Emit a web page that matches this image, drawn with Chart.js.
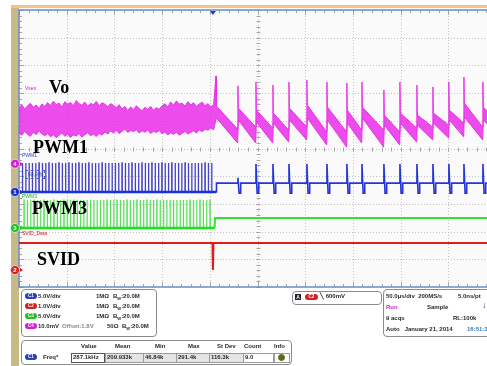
<!DOCTYPE html>
<html>
<head>
<meta charset="utf-8">
<script src="https://cdn.jsdelivr.net/npm/chart.js@4"></script>
<style>
  body { margin:0; width:487px; height:366px; overflow:hidden; background:#fff; position:relative;
         font-family:'Liberation Sans', Arial, sans-serif; }
  .abs { position:absolute; white-space:nowrap; }
  .big { position:absolute; font:bold 18px 'Liberation Serif', 'Times New Roman', serif; line-height:18px; color:#000; }
  .tiny { position:absolute; font:5px 'Liberation Sans', Arial, sans-serif; line-height:5px; white-space:nowrap; }
  .box { position:absolute; border:1px solid #8c8c8c; border-radius:4px; background:#fff; }
  .t { position:absolute; font:bold 6px 'Liberation Sans', Arial, sans-serif; line-height:7px; color:#2a2a2a; white-space:nowrap; }
  .pill { position:absolute; width:12px; height:6px; border-radius:3px; color:#fff; text-align:center;
          font:bold 4.5px 'Liberation Sans', Arial, sans-serif; line-height:6px; }
  .cell { position:absolute; top:353px; height:8px; border:1px solid #9a9a9a; background:#e4e4e4; }
  sub { font-size:4px; }
</style>
</head>
<body>
<div class="abs" style="left:11px;top:8px;width:8px;height:358px;background:rgb(200,186,132)"></div>
<div class="abs" style="left:11px;top:5px;width:476px;height:3px;background:#f3c28e"></div>
<canvas id="scope" width="500" height="292" style="position:absolute;left:0;top:0;width:500px;height:292px"></canvas>

<div class="big" style="left:49px;top:78px">Vo</div>
<div class="big" style="left:33px;top:138px">PWM1</div>
<div class="big" style="left:32px;top:199px">PWM3</div>
<div class="big" style="left:37px;top:250px">SVID</div>
<div class="tiny" style="left:25px;top:86px;color:#d020d0">Vsen</div>
<div class="tiny" style="left:22px;top:153px;color:#2a3fbf">PWM1</div>
<div class="tiny" style="left:22px;top:194px;color:#20b020">PWM3</div>
<div class="tiny" style="left:22px;top:231px;color:#d42020">SVID_Data</div>
<div class="tiny" style="left:25px;top:170px;padding:1px 2px;border:1px dashed #4a5fd0;color:#2a3fbf">50.0%</div>

<!-- channel settings -->
<div class="box" style="left:21px;top:289px;width:134px;height:46px"></div>
<div class="pill" style="left:25px;top:293px;background:#2a3fbf">C1</div>
<div class="t" style="left:38px;top:293px">5.0V/div</div>
<div class="t" style="left:96px;top:293px">1MΩ</div>
<div class="t" style="left:113px;top:293px">B<sub>W</sub>:20.0M</div>
<div class="pill" style="left:25px;top:303px;background:#d42020">C2</div>
<div class="t" style="left:38px;top:303px">1.0V/div</div>
<div class="t" style="left:96px;top:303px">1MΩ</div>
<div class="t" style="left:113px;top:303px">B<sub>W</sub>:20.0M</div>
<div class="pill" style="left:25px;top:313px;background:#22c022">C3</div>
<div class="t" style="left:38px;top:313px">5.0V/div</div>
<div class="t" style="left:96px;top:313px">1MΩ</div>
<div class="t" style="left:113px;top:313px">B<sub>W</sub>:20.0M</div>
<div class="pill" style="left:25px;top:323px;background:#d020d0">C4</div>
<div class="t" style="left:38px;top:323px">10.0mV</div>
<div class="t" style="left:62px;top:323px;color:#8a8a8a">Offset:1.8V</div>
<div class="t" style="left:107px;top:323px">50Ω</div>
<div class="t" style="left:122px;top:323px">B<sub>W</sub>:20.0M</div>

<!-- measurement table -->
<div class="box" style="left:21px;top:340px;width:269px;height:23px"></div>
<div class="t" style="left:81px;top:343px">Value</div>
<div class="t" style="left:115px;top:343px">Mean</div>
<div class="t" style="left:155px;top:343px">Min</div>
<div class="t" style="left:188px;top:343px">Max</div>
<div class="t" style="left:217px;top:343px">St Dev</div>
<div class="t" style="left:244px;top:343px">Count</div>
<div class="t" style="left:274px;top:343px">Info</div>
<div class="pill" style="left:25px;top:354px;background:#2a3fbf">C1</div>
<div class="t" style="left:43px;top:354px">Freq*</div>
<div class="cell" style="left:71px;width:32px;background:#fff;border-color:#555"></div>
<div class="cell" style="left:105px;width:37px"></div>
<div class="cell" style="left:143px;width:32px"></div>
<div class="cell" style="left:176px;width:32px"></div>
<div class="cell" style="left:209px;width:33px"></div>
<div class="cell" style="left:243px;width:29px;background:#fff"></div>
<div class="cell" style="left:274px;width:14px;background:#fff"></div>
<div class="t" style="left:73px;top:354px">287.1kHz</div>
<div class="t" style="left:107px;top:354px">209.933k</div>
<div class="t" style="left:145px;top:354px">46.84k</div>
<div class="t" style="left:178px;top:354px">291.4k</div>
<div class="t" style="left:211px;top:354px">116.3k</div>
<div class="t" style="left:245px;top:354px">9.0</div>
<div class="abs" style="left:278px;top:354px;width:7px;height:7px;border-radius:50%;background:#7a5a1a;border:1px solid #3d7a2a;box-sizing:border-box"></div>

<!-- trigger -->
<div class="box" style="left:292px;top:291px;width:88px;height:12px"></div>
<div class="abs" style="left:295px;top:294px;width:6px;height:6px;background:#223;color:#fff;font:bold 5px Arial;line-height:6px;text-align:center">A</div>
<div class="pill" style="left:305px;top:294px;width:13px;background:#d42020">C2</div>
<div class="t" style="left:320px;top:293px">╲ 600mV</div>

<!-- acquisition -->
<div class="box" style="left:383px;top:289px;width:115px;height:46px"></div>
<div class="t" style="left:386px;top:293px">50.0µs/div&nbsp; 200MS/s</div>
<div class="t" style="left:458px;top:293px">5.0ns/pt</div>
<div class="t" style="left:386px;top:304px;color:#d020d0">Run</div>
<div class="t" style="left:427px;top:304px">Sample</div>
<div class="t" style="left:482px;top:302px;color:#2a3fbf;font-size:9px">↓</div>
<div class="t" style="left:386px;top:315px">9 acqs</div>
<div class="t" style="left:453px;top:315px">RL:100k</div>
<div class="t" style="left:386px;top:326px">Auto&nbsp;&nbsp; January 21, 2014</div>
<div class="t" style="left:467px;top:326px;color:#3a7fc0">16:51:36</div>

<script>
// time axis in µs (50 µs/div), vertical axis in screen divisions
const voNoiseT = [0,3,6,9,12,15,18,21,24,27, 30,33,36,39,42,45,48,51,54,57,
  60,63,66,69,72,75,78,81,84,87, 90,93,96,99,102,105,108,111,114,117,
  120,123,126,129,132,135,138,141,144,147, 150,153,156,159,162,165,168,171,174,177,
  180,183,186,189,192,195,198,201,204];
const voNoiseHi = [1.47,1.58,1.42,1.54,1.63,1.49,1.57,1.44,1.61,1.52,
  1.66,1.55,1.71,1.58,1.64,1.50,1.69,1.60,1.66,1.54,
  1.73,1.62,1.56,1.68,1.52,1.63,1.58,1.70,1.54,1.65,
  1.60,1.51,1.62,1.56,1.47,1.58,1.42,1.52,1.37,1.50,
  1.40,1.54,1.44,1.36,1.49,1.41,1.52,1.38,1.47,1.42,
  1.54,1.62,1.50,1.68,1.56,1.72,1.60,1.64,1.53,1.69,
  1.57,1.65,1.52,1.61,1.67,1.54,1.62,1.50,1.58];
const voNoiseLo = [0.56,0.48,0.62,0.51,0.44,0.59,0.50,0.64,0.53,0.46,
  0.54,0.42,0.50,0.39,0.48,0.56,0.44,0.51,0.40,0.49,
  0.45,0.54,0.41,0.50,0.57,0.46,0.52,0.43,0.55,0.48,
  0.60,0.52,0.64,0.56,0.66,0.54,0.62,0.70,0.58,0.65,
  0.61,0.68,0.56,0.64,0.59,0.67,0.54,0.62,0.58,0.65,
  0.53,0.60,0.49,0.57,0.51,0.59,0.48,0.55,0.62,0.52,
  0.58,0.64,0.56,0.67,0.61,0.70,0.66,0.74,0.68];

// load-step ringing after the trigger
const pulseTimes = [206.5,229.5,248.4,266.2,283.0,301.8,322.8,343.7,359.5,382.5,399.3,417.1,433.9,450.6,466.4,486.3];
const voPeaks    = [2.62,2.26,2.40,2.29,2.40,2.47,2.40,2.36,2.40,2.11,2.40,2.29,2.22,2.40,2.58,2.40];
const voTopStart = [1.53,1.46,1.39,1.28,1.46,1.57,1.50,1.39,1.50,1.21,1.28,1.21,1.28,1.39,1.64,1.50];
const voTopEnd   = [0.70,0.78,0.74,0.67,0.78,0.60,0.60,0.67,0.67,0.60,0.74,0.78,0.85,0.92,0.78,0.99];
const voBotStart = [1.10,1.03,0.96,0.92,1.03,1.10,1.03,0.92,1.10,0.85,0.92,0.85,0.92,1.03,1.14,1.03];
const voBotEnd   = [0.20,0.20,0.20,0.23,0.31,0.13,0.05,0.20,0.05,0.13,0.23,0.31,0.38,0.42,0.31,0.56];

const pwm1Times = [3.5,7.0,10.5,13.9,17.4,20.9,24.4,27.9,31.3,34.8,38.3,41.8,45.3,48.7,52.2,55.7,59.2,62.7,
  66.1,69.6,73.1,76.6,80.1,83.5,87.0,90.5,94.0,97.5,100.9,104.4,107.9,111.4,114.9,118.3,121.8,125.3,
  128.8,132.3,135.7,139.2,142.7,146.2,149.7,153.1,156.6,160.1,163.6,167.1,170.5,174.0,177.5,181.0,
  184.5,187.9,191.4,194.9,198.4,201.9];
const pwm3Times = [5.2,8.7,12.2,15.6,19.1,22.6,26.1,29.6,33.0,36.5,40.0,43.5,47.0,50.4,53.9,57.4,60.9,64.4,
  67.8,71.3,74.8,78.3,81.8,85.2,88.7,92.2,95.7,99.2,102.6,106.1,109.6,113.1,116.6,120.0,123.5,127.0,
  130.5,134.0,137.4,140.9,144.4,147.9,151.4,154.8,158.3,161.8,165.3,168.8,172.2,175.7,179.2,182.7,
  186.2,189.6,193.1,196.6,200.1];
const pwm1Highs = [-1.06,-0.56,-0.56,-0.56,-0.56,-0.56,-0.56,-0.56,-0.56,-0.56,-0.56,-0.56,-0.56,-0.56,-0.56];
const pwm1Low = -1.57, pwm1High = -0.52, pwm1Idle = -1.25, pwm1Dip = -1.61, pwm1Stop = 206.5;
const pwm3Low = -2.87, pwm3High = -1.86, pwm3Idle = -2.51, pwm3Stop = 205.0;

const svidTimes  = [0, 202.8, 203.3, 203.8, 500];
const svidLevels = [-3.41, -3.41, -4.39, -3.41, -3.41];

const triggerTime = 203.3;
const chanMarks = [
  { n: '4', level: -0.55, color: '#d020d0' },
  { n: '1', level: -1.57, color: '#1a2fc8' },
  { n: '3', level: -2.87, color: '#22c022' },
  { n: '2', level: -4.39, color: '#d42020' }
];

// Vo drawn as a band: upper edge and lower edge, filled between
const voUpper = voNoiseT.map((t, i) => ({ x: t, y: voNoiseHi[i] }));
const voLower = voNoiseT.map((t, i) => ({ x: t, y: voNoiseLo[i] }));
pulseTimes.forEach((s, i) => {
  const end = i + 1 < pulseTimes.length ? pulseTimes[i + 1] - 0.3 : 500;
  voUpper.push({ x: s, y: voPeaks[i] }, { x: s + 0.4, y: voTopStart[i] }, { x: end, y: voTopEnd[i] });
  voLower.push({ x: s + 0.4, y: voBotStart[i] }, { x: end, y: voBotEnd[i] });
});

const burst = (times, low, high, stop) => {
  const pts = [{ x: 0, y: low }];
  times.forEach(t => pts.push({ x: t, y: low }, { x: t, y: high }, { x: t + 0.3, y: high }, { x: t + 0.3, y: low }));
  pts.push({ x: stop, y: low });
  return pts;
};

const pwm1After = [{ x: pwm1Stop, y: pwm1Low }, { x: pwm1Stop + 0.5, y: pwm1Idle }];
pulseTimes.slice(1).forEach((s, i) => {
  pwm1After.push({ x: s - 0.3, y: pwm1Idle }, { x: s, y: pwm1Highs[i] }, { x: s + 1.2, y: pwm1Dip },
                 { x: s + 2.4, y: pwm1Dip }, { x: s + 2.9, y: pwm1Idle });
});
pwm1After.push({ x: 500, y: pwm1Idle });

const line = (label, data, color, width, extra) => Object.assign({
  label, data, borderColor: color, backgroundColor: color, borderWidth: width,
  showLine: true, pointRadius: 0, tension: 0, fill: false
}, extra || {});

const scopeGrid = {
  id: 'scopeGrid',
  beforeDatasetsDraw(chart) {
    const { ctx, chartArea: a, scales: { x, y } } = chart;
    ctx.save();
    ctx.fillStyle = '#fafafa';
    ctx.fillRect(a.left, a.top, a.right - a.left, a.bottom - a.top);
    ctx.lineWidth = 1;
    ctx.strokeStyle = '#c2c2c2';
    ctx.setLineDash([1, 2]);
    ctx.beginPath();
    for (let i = 1; i < 10; i++) {
      const px = Math.round(x.getPixelForValue(i * 50)) + 0.5;
      ctx.moveTo(px, a.top); ctx.lineTo(px, a.bottom);
    }
    for (let j = -4; j <= 4; j++) {
      const py = Math.round(y.getPixelForValue(j)) + 0.5;
      ctx.moveTo(a.left, py); ctx.lineTo(a.right, py);
    }
    ctx.stroke();
    ctx.setLineDash([]);
    const cx = Math.round(x.getPixelForValue(250)) + 0.5;
    const cy = Math.round(y.getPixelForValue(0)) + 0.5;
    ctx.strokeStyle = '#a5a5a5';
    ctx.beginPath();
    for (let k = 0; k <= 50; k++) {
      const px = Math.round(x.getPixelForValue(k * 10)) + 0.5;
      const len = k % 5 === 0 ? 5 : 3;
      ctx.moveTo(px, a.top); ctx.lineTo(px, a.top + len);
      ctx.moveTo(px, a.bottom); ctx.lineTo(px, a.bottom - len);
      ctx.moveTo(px, cy - 2); ctx.lineTo(px, cy + 2);
      const py = Math.round(y.getPixelForValue(-5 + k * 0.2)) + 0.5;
      ctx.moveTo(a.left, py); ctx.lineTo(a.left + len, py);
      ctx.moveTo(cx - 2, py); ctx.lineTo(cx + 2, py);
    }
    ctx.stroke();
    ctx.strokeStyle = '#6b8bc8';
    ctx.lineWidth = 1.5;
    ctx.strokeRect(a.left, a.top, a.right - a.left, a.bottom - a.top);
    ctx.restore();
  },
  afterDatasetsDraw(chart) {
    const { ctx, chartArea: a, scales: { x, y } } = chart;
    ctx.save();
    const tx = x.getPixelForValue(triggerTime);
    ctx.fillStyle = '#1f3fd0';
    ctx.beginPath();
    ctx.moveTo(tx - 3, a.top + 1); ctx.lineTo(tx + 3, a.top + 1); ctx.lineTo(tx, a.top + 5);
    ctx.fill();
    chanMarks.forEach(m => {
      const py = y.getPixelForValue(m.level);
      ctx.fillStyle = m.color;
      ctx.beginPath();
      ctx.moveTo(20, py - 2); ctx.lineTo(23, py); ctx.lineTo(20, py + 2); ctx.fill();
      ctx.beginPath();
      ctx.arc(15, py, 4.5, 0, Math.PI * 2);
      ctx.fill();
      ctx.strokeStyle = 'rgba(255,255,255,0.8)';
      ctx.lineWidth = 0.8;
      ctx.stroke();
      ctx.fillStyle = '#fff';
      ctx.font = 'bold 6px Liberation Sans';
      ctx.textAlign = 'center';
      ctx.textBaseline = 'middle';
      ctx.fillText(m.n, 15, py + 0.5);
    });
    ctx.restore();
  }
};

new Chart(document.getElementById('scope'), {
  type: 'scatter',
  data: {
    datasets: [
      line('SVID', svidTimes.map((t, i) => ({ x: t, y: svidLevels[i] })), '#e41b1b', 2),
      line('PWM1', pwm1After, '#2436d8', 1.6),
      line('PWM1 base', [{ x: 0, y: pwm1Low }, { x: pwm1Stop, y: pwm1Low }], '#1432e0', 2.6),
      line('PWM1 burst', burst(pwm1Times, pwm1Low, pwm1High, pwm1Stop), 'rgba(50,45,190,0.9)', 1.3),
      line('PWM3', [{ x: pwm3Stop, y: pwm3Low }, { x: pwm3Stop + 0.5, y: pwm3Idle }, { x: 500, y: pwm3Idle }], '#2ee62e', 2),
      line('PWM3 base', [{ x: 0, y: pwm3Low }, { x: pwm3Stop, y: pwm3Low }], '#1ee01e', 2.6),
      line('PWM3 burst', burst(pwm3Times, pwm3Low, pwm3High, pwm3Stop), 'rgba(70,222,70,0.9)', 1.2),
      line('Vo high', voUpper, 'rgba(232,45,232,0.95)', 1),
      line('Vo low', voLower, 'rgba(232,45,232,0.95)', 1, { fill: '-1', backgroundColor: 'rgba(232,45,232,0.85)' })
    ]
  },
  options: {
    responsive: false,
    animation: false,
    layout: { padding: { left: 19, top: 10, right: 4, bottom: 5 } },
    plugins: { legend: { display: false }, tooltip: { enabled: false } },
    scales: {
      x: { type: 'linear', min: 0, max: 500, display: false },
      y: { type: 'linear', min: -5, max: 5, display: false }
    }
  },
  plugins: [scopeGrid]
});
</script>
</body>
</html>
